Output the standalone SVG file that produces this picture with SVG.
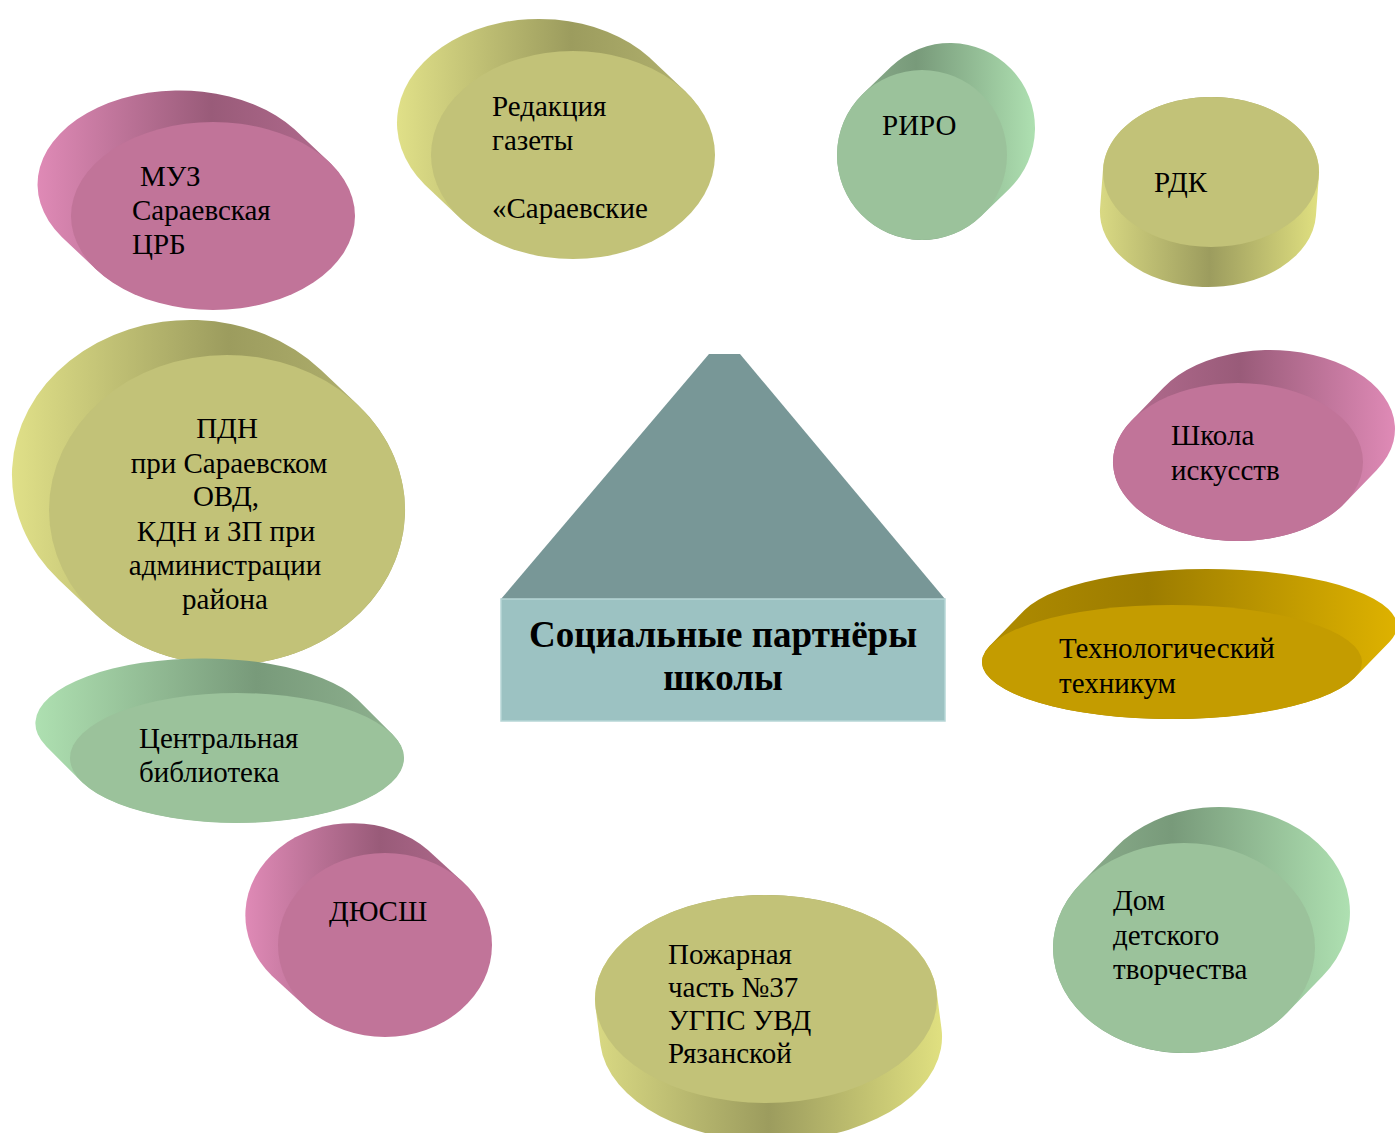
<svg xmlns="http://www.w3.org/2000/svg" width="1395" height="1133" viewBox="0 0 1395 1133">
<defs>
<linearGradient id="pinkL" x1="0" y1="0" x2="1" y2="0"><stop offset="0" stop-color="#df8ab6"/><stop offset="0.55" stop-color="#995b79"/><stop offset="1" stop-color="#b56d91"/></linearGradient>
<linearGradient id="pinkR" x1="0" y1="0" x2="1" y2="0"><stop offset="0" stop-color="#b56d91"/><stop offset="0.45" stop-color="#995b79"/><stop offset="1" stop-color="#df8ab6"/></linearGradient>
<linearGradient id="yelL" x1="0" y1="0" x2="1" y2="0"><stop offset="0" stop-color="#e0e088"/><stop offset="0.55" stop-color="#9c9c5e"/><stop offset="1" stop-color="#b5b571"/></linearGradient>
<linearGradient id="yelD" x1="0" y1="0" x2="1" y2="0"><stop offset="0" stop-color="#d9d983"/><stop offset="0.5" stop-color="#9c9c5e"/><stop offset="1" stop-color="#e0e080"/></linearGradient>
<linearGradient id="grnL" x1="0" y1="0" x2="1" y2="0"><stop offset="0" stop-color="#aee0b1"/><stop offset="0.6" stop-color="#789a7a"/><stop offset="1" stop-color="#8fb290"/></linearGradient>
<linearGradient id="grnR" x1="0" y1="0" x2="1" y2="0"><stop offset="0" stop-color="#8fb290"/><stop offset="0.4" stop-color="#789a7a"/><stop offset="1" stop-color="#aee0b1"/></linearGradient>
<linearGradient id="gldR" x1="0" y1="0" x2="1" y2="0"><stop offset="0" stop-color="#b08c00"/><stop offset="0.4" stop-color="#9c7c00"/><stop offset="1" stop-color="#deb200"/></linearGradient>
</defs>
<style>
.t{font-family:"Liberation Serif","Times New Roman",serif;font-size:29px;fill:#000}
.c{text-anchor:middle}
.pink{fill:#c17499}
.yel{fill:#c2c278}
.grn{fill:#9bc29b}
.gld{fill:#c49c00}
.hb{font-family:"Liberation Serif","Times New Roman",serif;font-size:37px;font-weight:bold;text-anchor:middle;fill:#000}
</style>
<rect width="1395" height="1133" fill="#ffffff"/>
<g id="connectors"/>

<g id="center">
<polygon points="709,354 740,354 945,599 501,599" fill="#789797"/>
<rect x="501" y="599" width="444" height="122" fill="#9cc2c2" stroke="#b6d6d6" stroke-width="1.5"/>
<text class="hb" x="723" y="647">Социальные партнёры</text>
<text class="hb" x="723" y="690">школы</text>
</g>

<g id="muz">
<path d="M96.8,270 A142,94 0 0 0 329.2,162 L294.2,129 A142,94 0 0 0 61.8,237 Z" fill="url(#pinkL)"/>
<ellipse class="pink" cx="213" cy="216" rx="142" ry="94"/>
<text class="t" x="140" y="186">МУЗ</text>
<text class="t" x="132" y="220">Сараевская</text>
<text class="t" x="132" y="254">ЦРБ</text>
</g>

<g id="redakciya">
<path d="M460.8,218.7 A142,104 0 0 0 685.2,91.3 L649.2,57.3 A142,104 0 0 0 424.8,184.7 Z" fill="url(#yelL)"/>
<ellipse class="yel" cx="573" cy="155" rx="142" ry="104"/>
<text class="t" x="492" y="116">Редакция</text>
<text class="t" x="492" y="150">газеты</text>
<text class="t" x="492" y="218">«Сараевские</text>
</g>

<g id="riro">
<path d="M863,93.8 A85,85 0 0 0 981,216.2 L1009,189.2 A85,85 0 0 0 891,66.8 Z" fill="url(#grnR)"/>
<ellipse class="grn" cx="922" cy="155" rx="85" ry="85"/>
<text class="t" x="882" y="135">РИРО</text>
</g>

<g id="rdk">
<path d="M1103.1,168.1 A108,75 0 0 1 1318.9,175.9 L1315.9,215.9 A108,75 0 0 1 1100.1,208.1 Z" fill="url(#yelD)"/>
<ellipse class="yel" cx="1211" cy="172" rx="108" ry="75"/>
<text class="t" x="1154" y="192">РДК</text>
</g>

<g id="shkola">
<path d="M1131.4,420.7 A125,79 0 0 0 1344.6,503.3 L1376.6,470.3 A125,79 0 0 0 1163.4,387.7 Z" fill="url(#pinkR)"/>
<ellipse class="pink" cx="1238" cy="462" rx="125" ry="79"/>
<text class="t" x="1171" y="445">Школа</text>
<text class="t" x="1171" y="480">искусств</text>
</g>

<g id="pdn">
<path d="M96,615 A178,155 0 0 0 358,405 L321,370 A178,155 0 0 0 59,580 Z" fill="url(#yelL)"/>
<ellipse class="yel" cx="227" cy="510" rx="178" ry="155"/>
<text class="t c" x="227" y="438">ПДН</text>
<text class="t c" x="229" y="473">при Сараевском</text>
<text class="t c" x="226" y="506">ОВД,</text>
<text class="t c" x="226" y="541">КДН и ЗП при</text>
<text class="t c" x="225" y="575">администрации</text>
<text class="t c" x="225" y="609">района</text>
</g>

<g id="biblioteka">
<path d="M81.4,781.6 A167,65 0 0 0 392.6,734.4 L357.6,699.4 A167,65 0 0 0 46.4,746.6 Z" fill="url(#grnL)"/>
<ellipse class="grn" cx="237" cy="758" rx="167" ry="65"/>
<text class="t" x="139" y="748">Центральная</text>
<text class="t" x="139" y="782">библиотека</text>
</g>

<g id="dyussh">
<path d="M307.1,1008 A107,92 0 0 0 462.9,882 L427.9,850 A107,92 0 0 0 272.1,976 Z" fill="url(#pinkL)"/>
<ellipse class="pink" cx="385" cy="945" rx="107" ry="92"/>
<text class="t" x="329" y="921">ДЮСШ</text>
</g>

<g id="pozharnaya">
<path d="M595.5,1007.3 A171,104 0 0 1 936.5,990.7 L941.5,1028.7 A171,104 0 0 1 600.5,1045.3 Z" fill="url(#yelD)"/>
<ellipse class="yel" cx="766" cy="999" rx="171" ry="104"/>
<text class="t" x="668" y="964">Пожарная</text>
<text class="t" x="668" y="997">часть №37</text>
<text class="t" x="668" y="1030">УГПС УВД</text>
<text class="t" x="668" y="1063">Рязанской</text>
</g>

<g id="dom">
<path d="M1080.7,883.4 A131,105 0 0 0 1287.3,1012.6 L1322.3,976.6 A131,105 0 0 0 1115.7,847.4 Z" fill="url(#grnR)"/>
<ellipse class="grn" cx="1184" cy="948" rx="131" ry="105"/>
<text class="t" x="1113" y="910">Дом</text>
<text class="t" x="1113" y="945">детского</text>
<text class="t" x="1113" y="979">творчества</text>
</g>

<g id="tehnikum">
<path d="M989.6,646 A190,57 0 0 0 1354.4,678 L1389.4,642 A190,57 0 0 0 1024.6,610 Z" fill="url(#gldR)"/>
<ellipse class="gld" cx="1172" cy="662" rx="190" ry="57"/>
<text class="t" x="1059" y="658">Технологический</text>
<text class="t" x="1059" y="693">техникум</text>
</g>
</svg>
